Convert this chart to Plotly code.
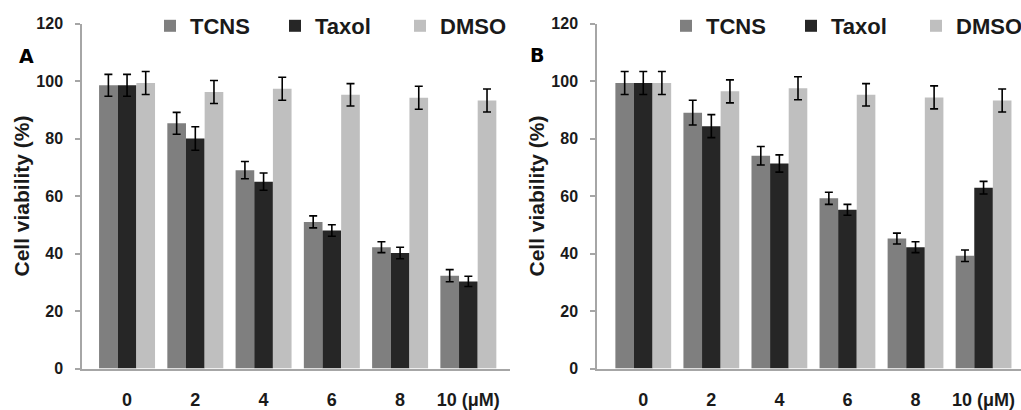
import plotly.graph_objects as go

categories = ["0", "2", "4", "6", "8", "10 (μM)"]
series_names = ["TCNS", "Taxol", "DMSO"]

# Panel A
a_tcns = [98.5, 85.3, 69.0, 51.0, 42.2, 32.3]
a_taxol = [98.5, 80.0, 65.0, 48.0, 40.2, 30.3]
a_dmso = [99.3, 96.2, 97.3, 95.2, 94.2, 93.2]
a_tcns_err = [3.8, 3.8, 3.0, 2.1, 1.9, 2.1]
a_taxol_err = [3.8, 4.1, 3.0, 2.0, 2.0, 1.8]
a_dmso_err = [4.0, 4.0, 4.0, 3.9, 4.0, 4.0]

# Panel B
b_tcns = [99.3, 89.0, 74.0, 59.2, 45.2, 39.2]
b_taxol = [99.3, 84.3, 71.3, 55.2, 42.2, 62.9]
b_dmso = [99.3, 96.4, 97.5, 95.2, 94.3, 93.2]
b_tcns_err = [4.0, 4.3, 3.2, 2.1, 1.9, 2.0]
b_taxol_err = [4.0, 4.0, 3.0, 1.9, 1.9, 2.2]
b_dmso_err = [4.0, 4.0, 4.0, 3.9, 4.0, 4.0]

colors = {"TCNS": "#7f7f7f", "Taxol": "#262626", "DMSO": "#bfbfbf"}

FONT = "Liberation Sans, Arial, sans-serif"
fig = go.Figure()

panels = [
    ("x", "y", "legend", [a_tcns, a_taxol, a_dmso], [a_tcns_err, a_taxol_err, a_dmso_err]),
    ("x2", "y2", "legend2", [b_tcns, b_taxol, b_dmso], [b_tcns_err, b_taxol_err, b_dmso_err]),
]
for xa, ya, lg, vals, errs in panels:
    for name, v, e in zip(series_names, vals, errs):
        fig.add_trace(go.Bar(
            x=categories, y=v, name=name, xaxis=xa, yaxis=ya, legend=lg,
            marker=dict(color=colors[name], line=dict(width=0)),
            error_y=dict(type="data", array=e, color="black", thickness=1.6, width=4),
        ))

W, H = 1021, 410
ydom = [(H - 368.5) / H, (H - 23.5) / H]
axis_gray = "#a6a6a6"

common_x = dict(
    showline=True, linecolor=axis_gray, linewidth=1.5, ticks="", showgrid=False,
    tickfont=dict(family=FONT, size=18, color="#1a1a1a", weight="bold"),
    ticklabelstandoff=14, zeroline=False, automargin=False,
)
common_y = dict(
    range=[0, 120], dtick=20, showline=True, linecolor=axis_gray, linewidth=1.5,
    ticks="outside", ticklen=5, tickcolor=axis_gray, tickwidth=1.5, showgrid=False,
    zeroline=False, domain=ydom, automargin=False,
    tickfont=dict(family=FONT, size=16, color="#1a1a1a", weight="bold"),
    ticklabelstandoff=9,
    title=dict(text="Cell viability (%)", standoff=1,
               font=dict(family=FONT, size=21, color="#1a1a1a", weight="bold")),
)

legend_common = dict(
    orientation="h", y=1 - 5 / H, xanchor="left", yanchor="top",
    font=dict(family=FONT, size=22, color="#1a1a1a", weight="bold"),
    entrywidth=80, entrywidthmode="pixels", itemwidth=30,
    bgcolor="rgba(0,0,0,0)",
)

fig.update_layout(
    width=W, height=H,
    margin=dict(l=0, r=0, t=0, b=0, autoexpand=False),
    paper_bgcolor="white", plot_bgcolor="white",
    barmode="group", bargap=0.18, bargroupgap=0,
    xaxis=dict(domain=[82 / W, 510 / W], range=[-0.66, 5.61], anchor="y", **common_x),
    xaxis2=dict(domain=[597 / W, 1.0], range=[-0.68, 5.55], anchor="y2", **common_x),
    yaxis=dict(anchor="x", **common_y),
    yaxis2=dict(anchor="x2", **common_y),
    legend=dict(x=150 / W, **legend_common),
    legend2=dict(x=666 / W, **legend_common),
    annotations=[
        dict(text="A", x=26 / W, y=1 - 56 / H, xref="paper", yref="paper", showarrow=False,
             xanchor="center", yanchor="middle",
             font=dict(family="DejaVu Sans, sans-serif", size=19, color="black", weight="bold")),
        dict(text="B", x=537 / W, y=1 - 55 / H, xref="paper", yref="paper", showarrow=False,
             xanchor="center", yanchor="middle",
             font=dict(family="DejaVu Sans, sans-serif", size=19, color="black", weight="bold")),
    ],
)

fig.write_html("out.html", config={"displayModeBar": False},
               post_script="document.body.style.margin='0';document.body.style.overflow='hidden';")
